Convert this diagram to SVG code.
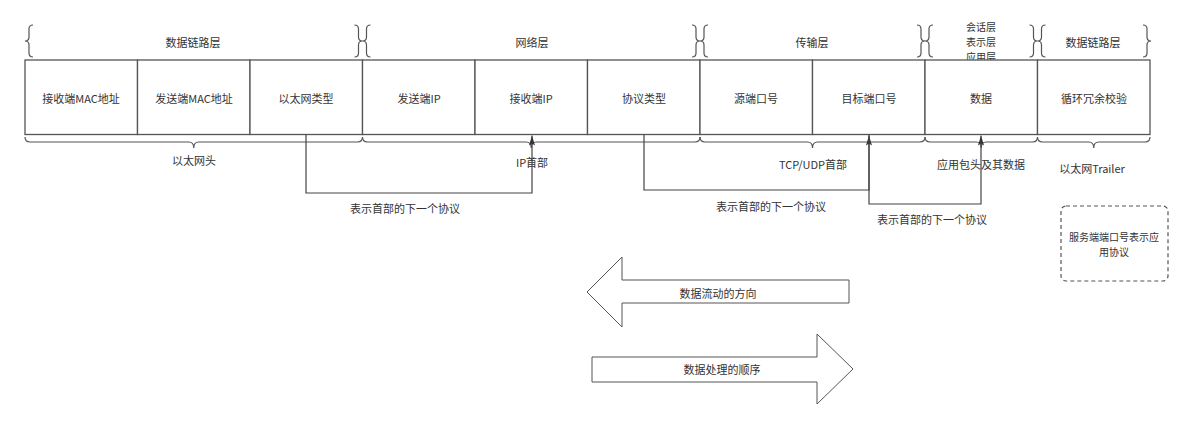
<svg xmlns="http://www.w3.org/2000/svg" width="1184" height="421" viewBox="0 0 1184 421">
<style>
text{font-family:"Noto Sans CJK SC","Noto Sans",sans-serif;font-size:11px;fill:#333;text-anchor:middle;dominant-baseline:central}
.sm{font-size:10px}
.box{fill:#fff;stroke:#555;stroke-width:1.3}
.br{fill:none;stroke:#555;stroke-width:1.2}
.ln{fill:none;stroke:#444;stroke-width:1.2}
.big{fill:#fff;stroke:#555;stroke-width:1}
</style>
<defs>
<marker id="ah" markerWidth="10" markerHeight="6" refX="10" refY="3" orient="auto" markerUnits="userSpaceOnUse" viewBox="0 0 10 6">
<path d="M10,3 L0,0 L2,3 L0,6 Z" fill="#333"/>
</marker>
</defs>
<rect width="1184" height="421" fill="#fff"/>
<g id="top-braces">
<path class="br" d="M33,25 Q29,25 29,29 L29,37 Q29,41 25,41 Q29,41 29,45 L29,53 Q29,57 33,57"/>
<path class="br" d="M354.5,25 Q358.5,25 358.5,29 L358.5,37 Q358.5,41 362.5,41 Q358.5,41 358.5,45 L358.5,53 Q358.5,57 354.5,57"/>
<path class="br" d="M370.5,25 Q366.5,25 366.5,29 L366.5,37 Q366.5,41 362.5,41 Q366.5,41 366.5,45 L366.5,53 Q366.5,57 370.5,57"/>
<path class="br" d="M692,25 Q696,25 696,29 L696,37 Q696,41 700,41 Q696,41 696,45 L696,53 Q696,57 692,57"/>
<path class="br" d="M708,25 Q704,25 704,29 L704,37 Q704,41 700,41 Q704,41 704,45 L704,53 Q704,57 708,57"/>
<path class="br" d="M917,25 Q921,25 921,29 L921,37 Q921,41 925,41 Q921,41 921,45 L921,53 Q921,57 917,57"/>
<path class="br" d="M933,25 Q929,25 929,29 L929,37 Q929,41 925,41 Q929,41 929,45 L929,53 Q929,57 933,57"/>
<path class="br" d="M1029.5,25 Q1033.5,25 1033.5,29 L1033.5,37 Q1033.5,41 1037.5,41 Q1033.5,41 1033.5,45 L1033.5,53 Q1033.5,57 1029.5,57"/>
<path class="br" d="M1045.5,25 Q1041.5,25 1041.5,29 L1041.5,37 Q1041.5,41 1037.5,41 Q1041.5,41 1041.5,45 L1041.5,53 Q1041.5,57 1045.5,57"/>
<path class="br" d="M1143,25 Q1147,25 1147,29 L1147,37 Q1147,41 1151,41 Q1147,41 1147,45 L1147,53 Q1147,57 1143,57"/>
<text x="193" y="42">数据链路层</text>
<text x="532" y="42">网络层</text>
<text x="812" y="42">传输层</text>
<text class="sm" x="981" y="26">会话层</text>
<text class="sm" x="981" y="41">表示层</text>
<text class="sm" x="981" y="56">应用层</text>
<text x="1093" y="42">数据链路层</text>
</g>
<g id="n1"><rect class="box" x="25" y="60" width="112.5" height="74.5"/><text x="81" y="98">接收端MAC地址</text></g>
<g id="n2"><rect class="box" x="137.5" y="60" width="112.5" height="74.5"/><text x="194" y="98">发送端MAC地址</text></g>
<g id="n3"><rect class="box" x="250" y="60" width="112.5" height="74.5"/><text x="306" y="98">以太网类型</text></g>
<g id="n4"><rect class="box" x="362.5" y="60" width="112.5" height="74.5"/><text x="419" y="98">发送端IP</text></g>
<g id="n5"><rect class="box" x="475" y="60" width="112.5" height="74.5"/><text x="531" y="98">接收端IP</text></g>
<g id="n6"><rect class="box" x="587.5" y="60" width="112.5" height="74.5"/><text x="644" y="98">协议类型</text></g>
<g id="n7"><rect class="box" x="700" y="60" width="112.5" height="74.5"/><text x="756" y="98">源端口号</text></g>
<g id="n8"><rect class="box" x="812.5" y="60" width="112.5" height="74.5"/><text x="869" y="98">目标端口号</text></g>
<g id="n9"><rect class="box" x="925" y="60" width="112.5" height="74.5"/><text x="981" y="98">数据</text></g>
<g id="n10"><rect class="box" x="1037.5" y="60" width="112.5" height="74.5"/><text x="1094" y="98">循环冗余校验</text></g>
<g id="bottom-braces">
<path class="br" d="M25,137 Q25,142 30,142 L188.75,142 Q193.75,142 193.75,148 Q193.75,142 198.75,142 L357.5,142 Q362.5,142 362.5,137"/>
<path class="br" d="M362.5,137 Q362.5,142 367.5,142 L526.25,142 Q531.25,142 531.25,148 Q531.25,142 536.25,142 L695,142 Q700,142 700,137"/>
<path class="br" d="M700,137 Q700,142 705,142 L807.5,142 Q812.5,142 812.5,148 Q812.5,142 817.5,142 L920,142 Q925,142 925,137"/>
<path class="br" d="M925,137 Q925,142 930,142 L976.25,142 Q981.25,142 981.25,148 Q981.25,142 986.25,142 L1032.5,142 Q1037.5,142 1037.5,137"/>
<path class="br" d="M1037.5,137 Q1037.5,142 1042.5,142 L1088.75,142 Q1093.75,142 1093.75,148 Q1093.75,142 1098.75,142 L1145,142 Q1150,142 1150,137"/>
<text x="194" y="160">以太网头</text>
<text x="532" y="162">IP首部</text>
<text x="813" y="164">TCP/UDP首部</text>
<text x="981" y="164">应用包头及其数据</text>
<text x="1092" y="168">以太网Trailer</text>
</g>
<g id="connectors">
<path class="ln" d="M306,134.5 V193 H532 V135.5" marker-end="url(#ah)"/>
<path class="ln" d="M644,134.5 V190 H869 V135.5" marker-end="url(#ah)"/>
<path class="ln" d="M869,134.5 V204 H981 V135.5" marker-end="url(#ah)"/>
<text x="405" y="208">表示首部的下一个协议</text>
<text x="771" y="206">表示首部的下一个协议</text>
<text x="932" y="219">表示首部的下一个协议</text>
</g>
<g id="flow-arrow">
<polygon class="big" points="587,292 622,257 622,280 849,280 849,303 622,303 622,327"/>
<text x="718" y="293">数据流动的方向</text>
</g>
<g id="process-arrow">
<polygon class="big" points="592,357 817,357 817,334 853,369 817,404 817,382 592,382"/>
<text x="722" y="369">数据处理的顺序</text>
</g>
<g id="note">
<rect x="1061" y="206" width="107" height="75" rx="5" fill="#fff" stroke="#555" stroke-width="1.2" stroke-dasharray="4 3"/>
<text class="sm" x="1114" y="236">服务端端口号表示应</text>
<text class="sm" x="1114" y="251">用协议</text>
</g>
</svg>
